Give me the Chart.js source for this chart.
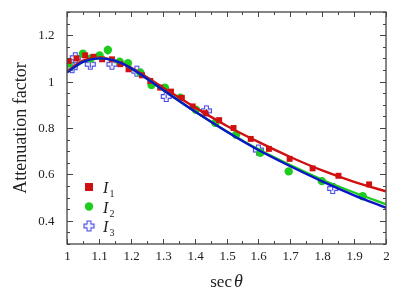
<!DOCTYPE html>
<html>
<head>
<meta charset="utf-8">
<script src="https://cdn.jsdelivr.net/npm/chart.js@4/dist/chart.umd.min.js"></script>
<style>
  body { margin: 0; background: #fff; }
  #wrap { width: 415px; height: 295px; }
</style>
</head>
<body>
<div id="wrap"><canvas id="chart" width="415" height="295"></canvas></div>
<script>
// measured points
const xI1 = [1.005, 1.03, 1.057, 1.083, 1.11, 1.141, 1.167, 1.193, 1.235, 1.261, 1.292, 1.326, 1.36, 1.394, 1.434, 1.477, 1.522, 1.576, 1.633, 1.698, 1.770, 1.851, 1.947];
const yI1 = [1.089, 1.10, 1.113, 1.107, 1.096, 1.096, 1.075, 1.053, 1.027, 1.003, 0.974, 0.957, 0.93, 0.893, 0.864, 0.834, 0.800, 0.753, 0.710, 0.667, 0.626, 0.594, 0.557];

const xI2 = [1.005, 1.05, 1.075, 1.102, 1.128, 1.165, 1.191, 1.23, 1.265, 1.307, 1.355, 1.404, 1.465, 1.530, 1.606, 1.695, 1.799, 1.927];
const yI2 = [1.078, 1.12, 1.10, 1.113, 1.136, 1.086, 1.079, 1.038, 0.985, 0.974, 0.931, 0.879, 0.822, 0.771, 0.693, 0.613, 0.571, 0.506];
const eI2 = [0.012, 0.012, 0.01, 0.01, 0.02, 0.01, 0.01, 0.01, 0.012, 0.01, 0.01, 0.01, 0.01, 0.008, 0.008, 0.008, 0.008, 0.008];

const xI3 = [1.016, 1.026, 1.073, 1.141, 1.219, 1.311, 1.437, 1.600, 1.833];
const yI3 = [1.06, 1.103, 1.075, 1.075, 1.045, 0.936, 0.874, 0.705, 0.539];
const eI3 = [0.015, 0.01, 0.015, 0.008, 0.008, 0.008, 0.008, 0.008, 0.008];

// fitted curves
const xFit = [1.0, 1.05, 1.1, 1.15, 1.2, 1.3, 1.4, 1.5, 1.6, 1.7, 1.8, 1.9, 2.0];
const fitI1 = [1.045, 1.09, 1.103, 1.09, 1.06, 0.975, 0.89, 0.81, 0.74, 0.675, 0.617, 0.568, 0.527];
const fitI2 = [1.04, 1.085, 1.10, 1.09, 1.058, 0.965, 0.872, 0.786, 0.708, 0.64, 0.577, 0.522, 0.471];
const fitI3 = [1.04, 1.085, 1.10, 1.09, 1.058, 0.965, 0.872, 0.785, 0.705, 0.635, 0.570, 0.51, 0.456];

const RED = '#d01010';
const GREEN = '#1ecc1e';
const BLUE = '#0a14c8';
const CROSS = '#4646e6';
const SERIF = '"Liberation Serif", "DejaVu Serif", serif';

function pts(xs, ys) {
    return xs.map((x, i) => ({ x: x, y: ys[i] }));
}

// open plus marker
const crossImg = document.createElement('canvas');
crossImg.width = 13;
crossImg.height = 13;
(function () {
    const c = crossImg.getContext('2d');
    const m = 6.5, s = 5, w = 1.9;
    c.beginPath();
    c.moveTo(m - w, m - s); c.lineTo(m + w, m - s); c.lineTo(m + w, m - w);
    c.lineTo(m + s, m - w); c.lineTo(m + s, m + w); c.lineTo(m + w, m + w);
    c.lineTo(m + w, m + s); c.lineTo(m - w, m + s); c.lineTo(m - w, m + w);
    c.lineTo(m - s, m + w); c.lineTo(m - s, m - w); c.lineTo(m - w, m - w);
    c.closePath();
    c.strokeStyle = CROSS;
    c.lineWidth = 1.1;
    c.stroke();
})();

function fitLine(data, color) {
    return {
        type: 'line', data: pts(xFit, data), borderColor: color, borderWidth: 2.4,
        pointRadius: 0, fill: false, cubicInterpolationMode: 'monotone', showLine: true
    };
}

const isMultiple = (v, step) => Math.abs(v / step - Math.round(v / step)) < 1e-6;
const fmt = v => String(Number(v.toFixed(2)));

// error bars + box ticks + labels + legend + titles
const decorPlugin = {
    id: 'decor',
    beforeDatasetsDraw(chart) {
        const ctx = chart.ctx;
        const xs = chart.scales.x, ys = chart.scales.y;
        ctx.save();
        [[4, eI2, GREEN], [5, eI3, CROSS]].forEach(([idx, errs, col]) => {
            const ds = chart.data.datasets[idx];
            ctx.strokeStyle = col;
            ctx.lineWidth = 1.2;
            ds.data.forEach((p, i) => {
                const px = xs.getPixelForValue(p.x);
                ctx.beginPath();
                ctx.moveTo(px, ys.getPixelForValue(p.y - errs[i]));
                ctx.lineTo(px, ys.getPixelForValue(p.y + errs[i]));
                ctx.stroke();
            });
        });
        ctx.restore();
    },
    afterDraw(chart) {
        const ctx = chart.ctx;
        const a = chart.chartArea;
        const xs = chart.scales.x, ys = chart.scales.y;
        ctx.save();
        ctx.strokeStyle = '#444';
        ctx.lineWidth = 1.3;
        ctx.strokeRect(a.left, a.top, a.right - a.left, a.bottom - a.top);
        ctx.lineWidth = 1;
        ctx.fillStyle = '#222';
        ctx.font = '13px ' + SERIF;
        xs.ticks.forEach(t => {
            const px = Math.round(xs.getPixelForValue(t.value)) + 0.5;
            const major = isMultiple(t.value, 0.1);
            const len = major ? 5 : 3;
            ctx.beginPath();
            ctx.moveTo(px, a.bottom); ctx.lineTo(px, a.bottom - len);
            ctx.moveTo(px, a.top); ctx.lineTo(px, a.top + len);
            ctx.stroke();
            if (major) {
                ctx.textAlign = 'center';
                ctx.textBaseline = 'middle';
                ctx.fillText(fmt(t.value), px, a.bottom + 13);
            }
        });
        ys.ticks.forEach(t => {
            const py = Math.round(ys.getPixelForValue(t.value)) + 0.5;
            const major = isMultiple(t.value, 0.2);
            const len = major ? 6 : 3;
            ctx.beginPath();
            ctx.moveTo(a.left, py); ctx.lineTo(a.left + len, py);
            ctx.moveTo(a.right, py); ctx.lineTo(a.right - len, py);
            ctx.stroke();
            if (major) {
                ctx.textAlign = 'right';
                ctx.textBaseline = 'middle';
                ctx.fillText(fmt(t.value), a.left - 12.5, py);
            }
        });

        // legend
        const lx = 89;
        const rows = [187, 206.5, 226];
        ctx.fillStyle = RED;
        ctx.fillRect(lx - 4, rows[0] - 4, 8, 8);
        ctx.fillStyle = GREEN;
        ctx.beginPath(); ctx.arc(lx, rows[1], 4.2, 0, Math.PI * 2); ctx.fill();
        ctx.drawImage(crossImg, lx - 6.5, rows[2] - 6.5);
        ctx.fillStyle = '#222';
        ctx.textAlign = 'left';
        ctx.textBaseline = 'alphabetic';
        ['1', '2', '3'].forEach((n, i) => {
            ctx.font = 'italic 16px ' + SERIF;
            ctx.fillText('I', 103, rows[i] + 6);
            ctx.font = '10px ' + SERIF;
            ctx.fillText(n, 109.5, rows[i] + 10);
        });

        // axis titles
        ctx.font = '17px ' + SERIF;
        const s1 = 'sec';
        const w1 = ctx.measureText(s1).width;
        ctx.font = 'italic 18px ' + SERIF;
        const w2 = ctx.measureText('\u03b8').width;
        const x0 = (a.left + a.right) / 2 - (w1 + 2 + w2) / 2;
        ctx.font = '17px ' + SERIF;
        ctx.fillText(s1, x0, 287);
        ctx.font = 'italic 18px ' + SERIF;
        ctx.fillText('\u03b8', x0 + w1 + 2, 287);

        ctx.translate(26, (a.top + a.bottom) / 2);
        ctx.rotate(-Math.PI / 2);
        ctx.textAlign = 'center';
        ctx.font = '18px ' + SERIF;
        ctx.fillText('Attenuation factor', 0, 0);
        ctx.restore();
    }
};

const chart = new Chart(document.getElementById('chart').getContext('2d'), {
    type: 'scatter',
    data: {
        datasets: [
            fitLine(fitI3, BLUE),
            fitLine(fitI2, GREEN),
            fitLine(fitI1, RED),
            { label: 'I1', data: pts(xI1, yI1), pointStyle: 'rect', pointRadius: 4.2, backgroundColor: RED, borderWidth: 0 },
            { label: 'I2', data: pts(xI2, yI2), pointStyle: 'circle', pointRadius: 4.2, backgroundColor: GREEN, borderWidth: 0 },
            { label: 'I3', data: pts(xI3, yI3), pointStyle: crossImg }
        ]
    },
    options: {
        responsive: false,
        animation: false,
        layout: { padding: { top: 12, right: 29, left: 0, bottom: 0 } },
        plugins: { legend: { display: false }, tooltip: { enabled: false } },
        scales: {
            x: {
                type: 'linear', min: 1, max: 2,
                grid: { display: false },
                border: { display: false },
                afterFit: s => { s.height = 51; },
                ticks: { stepSize: 0.05, display: false }
            },
            y: {
                type: 'linear', min: 0.3, max: 1.3,
                grid: { display: false },
                border: { display: false },
                afterFit: s => { s.width = 67; },
                ticks: { stepSize: 0.05, display: false }
            }
        }
    },
    plugins: [decorPlugin]
});
</script>
</body>
</html>
